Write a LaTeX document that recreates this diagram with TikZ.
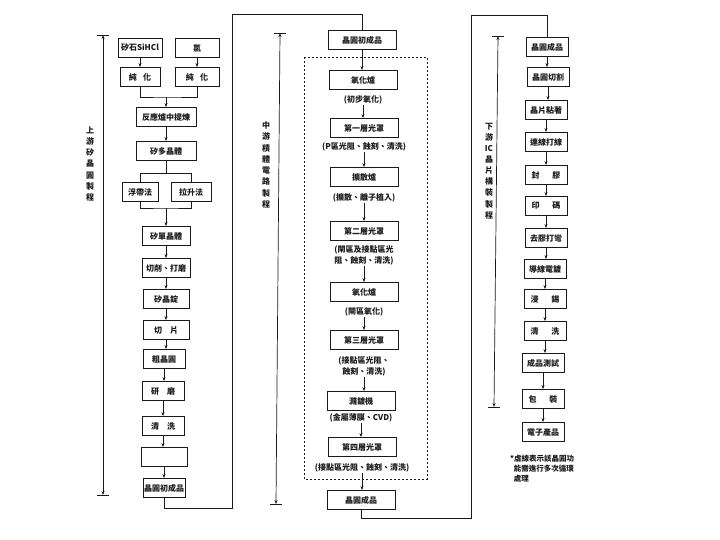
\documentclass[tikz,border=0pt]{standalone}
\usepackage{fontspec}
\setmainfont{Noto Sans CJK TC}
\usepackage{tikz}
\usetikzlibrary{arrows.meta}
\definecolor{pInk}{HTML}{1A1A1A}
\tikzset{
  every node/.style={font=\bfseries\fontsize{8}{9.5}\selectfont, text=pInk},
  procbox/.style={draw=pInk, line width=0.8pt, minimum height=19pt, inner sep=1pt, align=center},
  lbox/.style={procbox, minimum width=46pt},
  mbox/.style={procbox, minimum width=68pt},
  rbox/.style={procbox, minimum width=42pt},
  note/.style={inner sep=1pt, align=center},
  vlabel/.style={inner sep=0pt, align=center, font=\bfseries\fontsize{8}{11.3}\selectfont},
  link/.style={draw=pInk, line width=0.7pt},
  arr/.style={link, -{Stealth[length=4pt,width=3pt]}},
  span/.style={link, {Stealth[length=4pt,width=3pt]}-{Stealth[length=4pt,width=3pt]}},
}
\begin{document}
\begin{tikzpicture}[x=1pt, y=-1pt]
  \useasboundingbox (0,0) rectangle (720,540);

  % upstream
  \node[lbox, minimum width=44pt] (raw) at (140,48) {矽石SiHCl};
  \node[lbox, minimum width=44pt] (chl) at (197,48) {氯};
  \node[lbox, minimum width=40pt] (pur1) at (140,77) {純\hspace{0.8em}化};
  \node[lbox, minimum width=44pt] (pur2) at (197,77) {純\hspace{0.8em}化};
  \node[lbox, minimum width=60pt] (refine) at (166,117) {反應爐中提煉};
  \node[lbox, minimum width=60pt] (poly) at (166,151) {矽多晶體};
  \node[lbox, minimum width=36pt] (fz) at (140,192) {浮帶法};
  \node[lbox, minimum width=40pt] (cz) at (191,192) {拉升法};
  \node[lbox, minimum width=48pt] (mono) at (166,236) {矽單晶體};
  \node[lbox, minimum width=48pt] (grind) at (166,268) {切削、打磨};
  \node[lbox] (ingot) at (166,299) {矽晶錠};
  \node[lbox] (slice) at (166,330) {切\hspace{1em}片};
  \node[lbox, minimum width=42pt] (rough) at (164,359) {粗晶圓};
  \node[lbox, minimum width=42pt] (lap) at (163,391) {研\hspace{1em}磨};
  \node[lbox, minimum width=42pt] (clean) at (163,426) {清\hspace{1em}洗};
  \node[lbox] (blank) at (164,457) {};
  \node[lbox, minimum width=42pt] (wafer) at (164,488) {晶圓初成品};

  \draw[arr] (raw) -- (pur1);
  \draw[arr] (chl) -- (pur2);
  \coordinate (m1) at (166,97);
  \draw[link] (pur1) |- (m1) -| (pur2);
  \draw[arr] (m1) -- (refine);
  \draw[arr] (refine) -- (poly);
  \coordinate (s1) at (166,173);
  \draw[link] (poly) -- (s1);
  \draw[link] (s1) -| (fz);
  \draw[link] (s1) -| (cz);
  \coordinate (m2) at (166,208);
  \draw[link] (fz) |- (m2) -| (cz);
  \draw[arr] (m2) -- (mono);
  \draw[arr] (mono) -- (grind);
  \draw[arr] (grind) -- (ingot);
  \draw[arr] (ingot) -- (slice);
  \draw[arr] (slice.south) -- (slice.south |- rough.north);
  \draw[arr] (rough.south) -- (rough.south |- lap.north);
  \draw[arr] (lap) -- (clean);
  \draw[arr] (clean) -- (blank.north -| clean.south);
  \draw[arr] (blank.south -| wafer.north) -- (wafer);

  \coordinate (ltop) at (103,35);
  \coordinate (lbot) at (103,495);
  \draw[span] (ltop) -- (lbot);
  \draw[link] ([xshift=-6pt]ltop) -- ([xshift=6pt]ltop);
  \draw[link] ([xshift=-6pt]lbot) -- ([xshift=6pt]lbot);
  \node[vlabel] (uplabel) at (90,164) {上\\游\\矽\\晶\\圓\\製\\程};

  % midstream
  \node[mbox] (wstart) at (362,40) {晶圓初成品};
  \draw[link, dash pattern=on 2pt off 2pt] (304,57) rectangle (427,479);
  \node[mbox] (ox1) at (363,80) {氧化爐};
  \node[note] (ox1t) at (363,100) {(初步氧化)};
  \node[mbox] (mask1) at (364,128) {第一層光罩};
  \node[note] (mask1t) at (364,147) {(P區光阻、蝕刻、清洗)};
  \node[mbox] (diff) at (364,177) {擴散爐};
  \node[note] (difft) at (364,198) {(擴散、離子植入)};
  \node[mbox] (mask2) at (364,231) {第二層光罩};
  \node[note, font=\bfseries\fontsize{8}{11}\selectfont] (mask2t) at (364,255.5) {(閘區及接點區光\\阻、蝕刻、清洗)};
  \node[mbox] (ox2) at (364,292) {氧化爐};
  \node[note] (ox2t) at (364,312) {(閘區氧化)};
  \node[mbox] (mask3) at (364,340) {第三層光罩};
  \node[note, font=\bfseries\fontsize{8}{11}\selectfont] (mask3t) at (364,366) {(接點區光阻、\\蝕刻、清洗)};
  \node[mbox] (sput) at (361,401) {濺鍍機};
  \node[note] (sputt) at (361,418) {(金屬薄膜、CVD)};
  \node[mbox] (mask4) at (362,447) {第四層光罩};
  \node[note] (mask4t) at (362,468) {(接點區光阻、蝕刻、清洗)};
  \node[mbox] (wdone) at (361,500) {晶圓成品};

  \draw[arr] (wstart.south) -- (wstart.south |- ox1.north);
  \draw[arr] (ox1t.south) -- (ox1t.south |- mask1.north);
  \draw[arr] (mask1t.south) -- (mask1t.south |- diff.north);
  \draw[arr] (difft.south) -- (difft.south |- mask2.north);
  \draw[arr] (mask2t.south) -- (mask2t.south |- ox2.north);
  \draw[arr] (ox2t.south) -- (ox2t.south |- mask3.north);
  \draw[arr] (mask3t.south) -- (mask3t.south |- sput.north);
  \draw[arr] (sputt.south) -- (sputt.south |- mask4.north);
  \draw[arr] (mask4t.south) -- (mask4t.south |- wdone.north);

  \coordinate (lnk1a) at (232,508);
  \coordinate (lnk1b) at (232,14);
  \draw[link] (wafer.south) |- (lnk1a) -- (lnk1b) -| (wstart.north);

  \coordinate (mtop) at (280,33);
  \coordinate (mbot) at (276,504);
  \draw[span] (mtop) -- (mbot);
  \draw[link] ([xshift=-6pt]mtop) -- ([xshift=6pt]mtop);
  \draw[link] ([xshift=-6pt]mbot) -- ([xshift=6pt]mbot);
  \node[vlabel] (midlabel) at (266,165) {中\\游\\積\\體\\電\\路\\製\\程};

  % downstream
  \node[rbox] (rwafer) at (547,47) {晶圓成品};
  \node[rbox] (dice) at (548,77) {晶圓切割};
  \node[rbox] (attach) at (546,110) {晶片粘著};
  \node[rbox] (bond) at (546,142) {連線打線};
  \node[rbox] (mold) at (546,175) {封\hspace{1.6em}膠};
  \node[rbox] (mark) at (546,206) {印\hspace{1.6em}碼};
  \node[rbox] (trim) at (546,238) {去膠打彎};
  \node[rbox] (plate) at (545,269) {導線電鍍};
  \node[rbox] (tin) at (545,299) {浸\hspace{1.6em}錫};
  \node[rbox] (rclean) at (545,331) {清\hspace{1.6em}洗};
  \node[rbox] (test) at (543,363) {成品測試};
  \node[rbox] (pack) at (543,399) {包\hspace{1.6em}裝};
  \node[rbox] (prod) at (543,432) {電子產品};

  \draw[arr] (rwafer.south) -- (rwafer.south |- dice.north);
  \draw[arr] (dice.south) -- (dice.south |- attach.north);
  \draw[arr] (attach) -- (bond);
  \draw[arr] (bond) -- (mold);
  \draw[arr] (mold) -- (mark);
  \draw[arr] (mark) -- (trim);
  \draw[arr] (trim.south) -- (trim.south |- plate.north);
  \draw[arr] (plate) -- (tin);
  \draw[arr] (tin) -- (rclean);
  \draw[arr] (rclean.south) -- (rclean.south |- test.north);
  \draw[arr] (test) -- (pack);
  \draw[arr] (pack) -- (prod);

  \coordinate (lnk2a) at (471,518);
  \coordinate (lnk2b) at (471,15);
  \draw[link] (wdone.south) |- (lnk2a) -- (lnk2b) -| (rwafer.north);

  \coordinate (rtop) at (498,36);
  \coordinate (rbot) at (494,407);
  \draw[span] (rtop) -- (rbot);
  \draw[link] ([xshift=-6pt]rtop) -- ([xshift=6pt]rtop);
  \draw[link] ([xshift=-6pt]rbot) -- ([xshift=6pt]rbot);
  \node[vlabel, font=\bfseries\fontsize{8}{11.1}\selectfont] (lowlabel) at (489,171) {下\\游\\IC\\晶\\片\\構\\裝\\製\\程};

  \node[inner sep=0pt, align=left, anchor=north west, font=\bfseries\fontsize{7.5}{10}\selectfont] (remark) at (510,455)
    {*虛線表示該晶圓功\\\hspace{0.5em}能需進行多次循環\\\hspace{0.5em}處理};
\end{tikzpicture}
\end{document}
